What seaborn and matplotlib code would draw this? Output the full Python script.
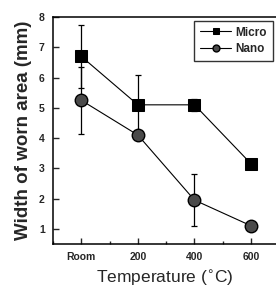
import numpy as np
import pandas as pd
import seaborn as sns
import matplotlib.pyplot as plt
from matplotlib.ticker import MultipleLocator

temps = ["Room", "200", "400", "600"]
micro = [6.7, 5.1, 5.1, 3.15]
micro_err = [1.05, 1.0, 0.2, 0.0]
nano = [5.25, 4.1, 1.95, 1.1]
nano_err = [1.1, 0.0, 0.85, 0.0]

sns.set_style("ticks")
plt.rcParams["font.family"] = ["Liberation Sans", "DejaVu Sans"]

xpos = np.arange(len(temps))
df = pd.DataFrame({
    "x": np.concatenate([xpos, xpos]),
    "width": micro + nano,
    "sample": ["Micro"] * len(temps) + ["Nano"] * len(temps),
})

fig = plt.figure(figsize=(2.76, 2.95), dpi=100)
ax = fig.add_axes([0.192, 0.173, 0.81, 0.769])

ax.errorbar(xpos, micro, yerr=micro_err, fmt="none", ecolor="black",
            elinewidth=0.9, capsize=2, capthick=0.9, zorder=1)
ax.errorbar(xpos, nano, yerr=nano_err, fmt="none", ecolor="black",
            elinewidth=0.9, capsize=2, capthick=0.9, zorder=1)

sns.lineplot(data=df[df["sample"] == "Micro"], x="x", y="width", ax=ax,
             color="black", lw=0.8, marker="s", markersize=9,
             markerfacecolor="black", markeredgecolor="black",
             label="Micro", zorder=3)
sns.lineplot(data=df[df["sample"] == "Nano"], x="x", y="width", ax=ax,
             color="black", lw=0.8, marker="o", markersize=9,
             markerfacecolor="#4a4a4a", markeredgecolor="black",
             markeredgewidth=1.0, label="Nano", zorder=3)

ax.set_xlim(-0.5, 3.45)
ax.set_ylim(0.5, 8)
ax.set_xticks(xpos)
ax.set_xticklabels(temps, fontsize=7.5, fontweight="bold")
ax.xaxis.set_minor_locator(MultipleLocator(0.5))
ax.set_yticks(range(1, 9))
ax.set_yticklabels([str(v) for v in range(1, 9)], fontsize=7.5, fontweight="bold")
ax.tick_params(axis="both", which="major", direction="in", length=4, width=1, pad=6)
ax.tick_params(axis="x", which="minor", direction="in", length=2, width=1)
for s in ax.spines.values():
    s.set_linewidth(1.1)
    s.set_color("black")

ax.set_xlabel("Temperature ($^{\\circ}$C)", fontsize=12.5, labelpad=4)
ax.set_ylabel("Width of worn area (mm)", fontsize=13.5, fontweight="bold", labelpad=5)

leg = ax.legend(loc="upper right", frameon=True, fancybox=False,
                edgecolor="black", handlelength=2.6, handletextpad=0.4,
                borderpad=0.5, labelspacing=0.35, markerscale=0.55,
                borderaxespad=0.3, prop={"weight": "bold", "size": 8.5})
leg.get_frame().set_linewidth(1.0)

fig.savefig("out.png", dpi=100)
